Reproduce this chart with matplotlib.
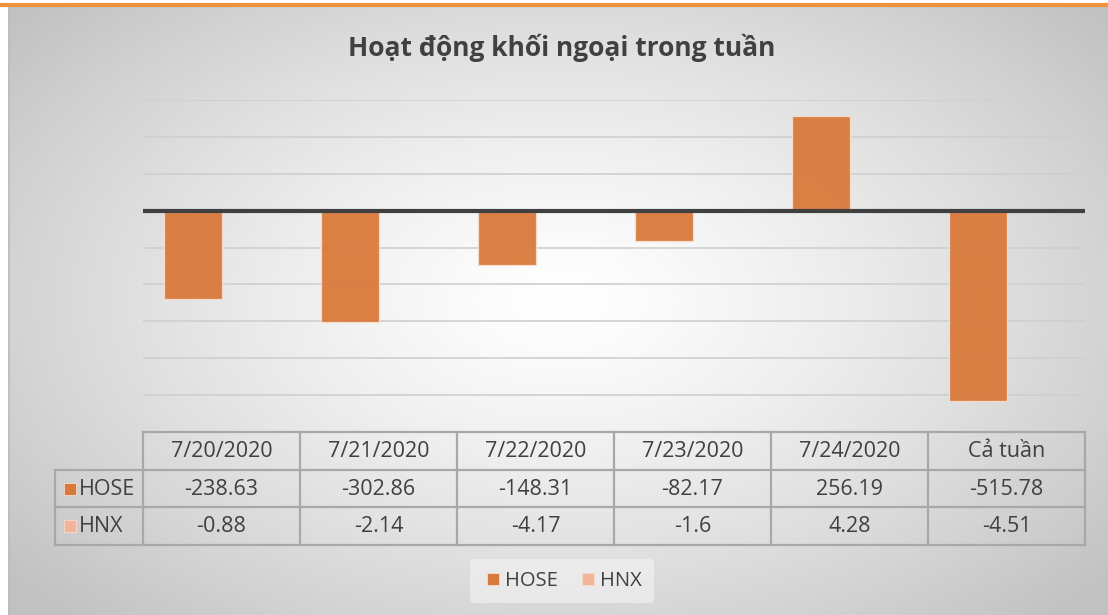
import numpy as np
import matplotlib.pyplot as plt
from matplotlib.lines import Line2D

plt.rcParams['font.family'] = ['Open Sans', 'DejaVu Sans']

title = 'Hoạt động khối ngoại trong tuần'
categories = ['7/20/2020', '7/21/2020', '7/22/2020', '7/23/2020', '7/24/2020', 'Cả tuần']
series_names = ['HOSE', 'HNX']
hose = [-238.63, -302.86, -148.31, -82.17, 256.19, -515.78]
hnx = [-0.88, -2.14, -4.17, -1.6, 4.28, -4.51]
hose_labels = ['-238.63', '-302.86', '-148.31', '-82.17', '256.19', '-515.78']
hnx_labels = ['-0.88', '-2.14', '-4.17', '-1.6', '4.28', '-4.51']

W, H = 1108, 615
fig = plt.figure(figsize=(W / 100, H / 100), dpi=100)

def fx(px):
    return px / W

def fy(py):
    return 1 - py / H

# background: radial grey gradient inside the chart frame
bg = fig.add_axes([0, 0, 1, 1], zorder=-10)
yy, xx = np.mgrid[0:H, 0:W]
d = np.sqrt(((xx - 560) / 620.0) ** 2 + ((yy - 300) / 380.0) ** 2)
d = np.clip(d / 1.15, 0, 1)
shade = 1 - 0.24 * d ** 1.3
img = np.dstack([shade, shade, shade])
img[:, :8] = 1.0
img[:6, :] = 1.0
bg.imshow(img, extent=[0, W, H, 0], aspect='auto', interpolation='bilinear')
bg.plot([8.5, 8.5], [6, H], color='#bdbdbd', lw=1.2)
bg.plot([0, W], [4.5, 4.5], color='#f0913f', lw=3)
bg.set_xlim(0, W)
bg.set_ylim(H, 0)
bg.axis('off')

fig.text(fx(562), fy(48), title, ha='center', va='center', fontsize=19,
         fontweight='bold', color='#404040')

# main chart
ax = fig.add_axes([fx(143), fy(432), fx(1085) - fx(143), fy(100) - fy(432)])
ax.patch.set_alpha(0)
x = np.arange(len(categories))
bw = 0.365
ax.bar(x - bw / 2, hose, bw, color='#d97a3c', alpha=0.95, edgecolor='#f8dccb',
       linewidth=0.9, zorder=3)
ax.bar(x + bw / 2, hnx, bw, color='#f3ab8c', edgecolor='#f8dccb',
       linewidth=0.5, zorder=3)
ax.set_xlim(-0.5, len(categories) - 0.5)
ax.set_ylim(-600, 300)
ax.set_yticks(np.arange(-600, 301, 100))
ax.grid(axis='y', color='#cfcfcf', lw=1.2, zorder=0)
ax.axhline(0, color='#404040', lw=3, zorder=4)
ax.set_xticks([])
ax.tick_params(left=False, labelleft=False)
for s in ax.spines.values():
    s.set_visible(False)

# data table
tab = fig.add_axes([fx(143), fy(545), fx(1085) - fx(143), fy(432) - fy(545)])
tab.patch.set_alpha(0)
tab.set_xlim(-0.5, len(categories) - 0.5)
tab.set_ylim(3, 0)
tab.axis('off')
lc = '#a8a8a8'
lab_left = -0.5 - 88 / 157.0
for i in range(len(categories) + 1):
    tab.plot([i - 0.5, i - 0.5], [0, 3], color=lc, lw=1.6, clip_on=False)
for j in range(4):
    x0 = -0.5 if j == 0 else lab_left
    tab.plot([x0, len(categories) - 0.5], [j, j], color=lc, lw=1.6, clip_on=False)
tab.plot([lab_left, lab_left], [1, 3], color=lc, lw=1.6, clip_on=False)
tc = '#404040'
fs = 15.5
for i, c in enumerate(categories):
    tab.text(i, 0.52, c, ha='center', va='center', fontsize=fs, color=tc)
    tab.text(i, 1.52, hose_labels[i], ha='center', va='center', fontsize=fs, color=tc)
    tab.text(i, 2.52, hnx_labels[i], ha='center', va='center', fontsize=fs, color=tc)
sq_colors = ['#d97a3c', '#f3b49c']
for j, name in enumerate(series_names):
    tab.plot([lab_left + 0.095], [1.5 + j], 's', ms=9, color=sq_colors[j],
             mec='#f8dccb', mew=0.6, clip_on=False)
    tab.text(lab_left + 0.15, 1.52 + j, name, ha='left', va='center', fontsize=fs,
             color=tc)

handles = [Line2D([], [], marker='s', ls='', ms=9, color=sq_colors[k],
                  mec='#f8dccb', mew=0.6) for k in range(2)]
leg = fig.legend(handles, series_names, loc='center', bbox_to_anchor=(fx(562), fy(581)),
                 ncol=2, frameon=True, fontsize=14.5, handletextpad=0.1,
                 columnspacing=1.0, handlelength=1.0, borderpad=0.6)
leg.get_frame().set_facecolor('#f4f4f4')
leg.get_frame().set_edgecolor('none')
leg.get_frame().set_alpha(0.6)
for t in leg.get_texts():
    t.set_color(tc)

fig.savefig('out.png', dpi=100)
